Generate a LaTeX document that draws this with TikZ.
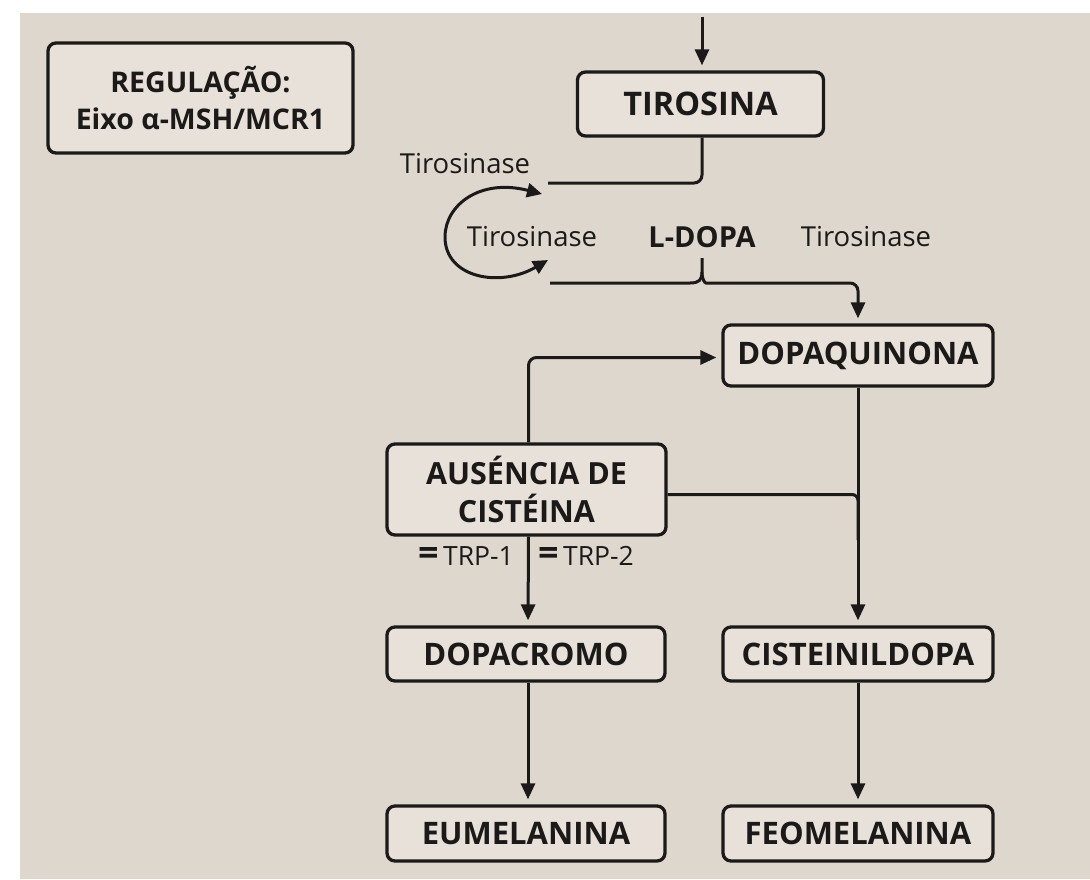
\documentclass[tikz,border=0pt]{standalone}
\usepackage{fontspec}
\setmainfont{Open Sans}
\usetikzlibrary{arrows.meta}
\definecolor{bg}{RGB}{222,215,206}
\definecolor{boxfill}{RGB}{231,225,217}
\definecolor{ink}{RGB}{28,26,24}
\newcommand{\eqbar}{{\fontsize{36}{28}\selectfont\bfseries =}}
\begin{document}
\begin{tikzpicture}[x=1pt,y=-1pt,
 box/.style={draw=ink, line width=3.3pt, fill=boxfill, rounded corners=8pt, inner sep=0pt, align=center, font=\fontsize{31}{36}\selectfont\bfseries, text=ink},
 conn/.style={draw=ink, line width=3pt},
 arr/.style={conn, -{Triangle[length=16pt,width=14pt]}, shorten >=5pt},
 lbl/.style={font=\fontsize{27.5}{32}\selectfont, text=ink, inner sep=0pt},
 trp/.style={font=\fontsize{26.5}{28}\selectfont, text=ink, inner sep=0pt}]
\useasboundingbox (0,0) rectangle (1090,879);
\fill[white] (0,0) rectangle (1090,879);
\fill[bg] (20,13) rectangle (1090,879);

% boxes
\node[box, minimum width=305pt, minimum height=110pt, font=\fontsize{28.5}{37}\selectfont\bfseries] (reg) at (200.5,98) {REGULAÇÃO:\\Eixo α-MSH/MCR1};
\node[box, minimum width=246pt, minimum height=64pt, font=\fontsize{32.5}{36}\selectfont\bfseries] (tir) at (700.5,104) {TIROSINA};
\node[box, minimum width=270pt, minimum height=61pt] (dopaq) at (858,355.5) {DOPAQUINONA};
\node[box, minimum width=279pt, minimum height=91pt, font=\fontsize{30.5}{38}\selectfont\bfseries] (aus) at (526.5,489.5) {AUSÉNCIA DE\\CISTÉINA};
\node[box, minimum width=278pt, minimum height=54pt] (dopacr) at (526,654) {DOPACROMO};
\node[box, minimum width=270pt, minimum height=54pt] (cist) at (858,654) {CISTEINILDOPA};
\node[box, minimum width=278pt, minimum height=55pt] (eum) at (526,833.5) {EUMELANINA};
\node[box, minimum width=270pt, minimum height=55pt] (feo) at (858,833.5) {FEOMELANINA};

% labels
\node[lbl] (tz1) at (465,164) {Tirosinase};
\node[lbl] (tz2) at (532,237) {Tirosinase};
\node[lbl, font=\fontsize{29}{32}\selectfont\bfseries] (ldopa) at (702,237) {L-DOPA};
\node[lbl] (tz3) at (866,237) {Tirosinase};
\node[trp] (trp1) at (466,556) {\eqbar\,TRP-1};
\node[trp] (trp2) at (586,556) {\eqbar\,TRP-2};

% coordinates
\coordinate (topin) at (702,17);
\coordinate (t1) at (548,183);
\coordinate (cA) at (542,194);
\coordinate (cB) at (548,260);
\coordinate (b0) at (550,283);
\coordinate (bt) at (702,258);
\coordinate (bm) at (702,272);
\coordinate (mrg) at (858,540);

% connectors
\draw[arr] (topin) -- (topin |- tir.north);
\draw[conn, rounded corners=8pt] ([xshift=1.5pt]tir.south) |- (t1);
\draw[conn, {Triangle[length=15pt,width=14pt]}-{Triangle[length=15pt,width=14pt]}] (cA) .. controls (480,178) and (445,205) .. (445,237) .. controls (445,278) and (500,288) .. (cB);
\draw[conn] (b0) -- (690,283) .. controls (699,283) and (702,280) .. (bm) -- (bt);
\draw[arr, rounded corners=8pt] (bm) .. controls (702,280) and (705,283) .. (714,283) -| (dopaq.north);
\draw[arr, rounded corners=8pt] ([xshift=2pt]aus.north) |- ([yshift=-2pt]dopaq.west);
\draw[arr] (dopaq.south) -- (cist.north);
\draw[conn, rounded corners=6pt] ([yshift=-5pt]aus.east) -| (mrg);
\draw[arr] ([xshift=2pt]aus.south) -- ([xshift=2pt]dopacr.north);
\draw[arr] ([xshift=2pt]dopacr.south) -- ([xshift=2pt]eum.north);
\draw[arr] (cist.south) -- (feo.north);
\end{tikzpicture}
\end{document}
